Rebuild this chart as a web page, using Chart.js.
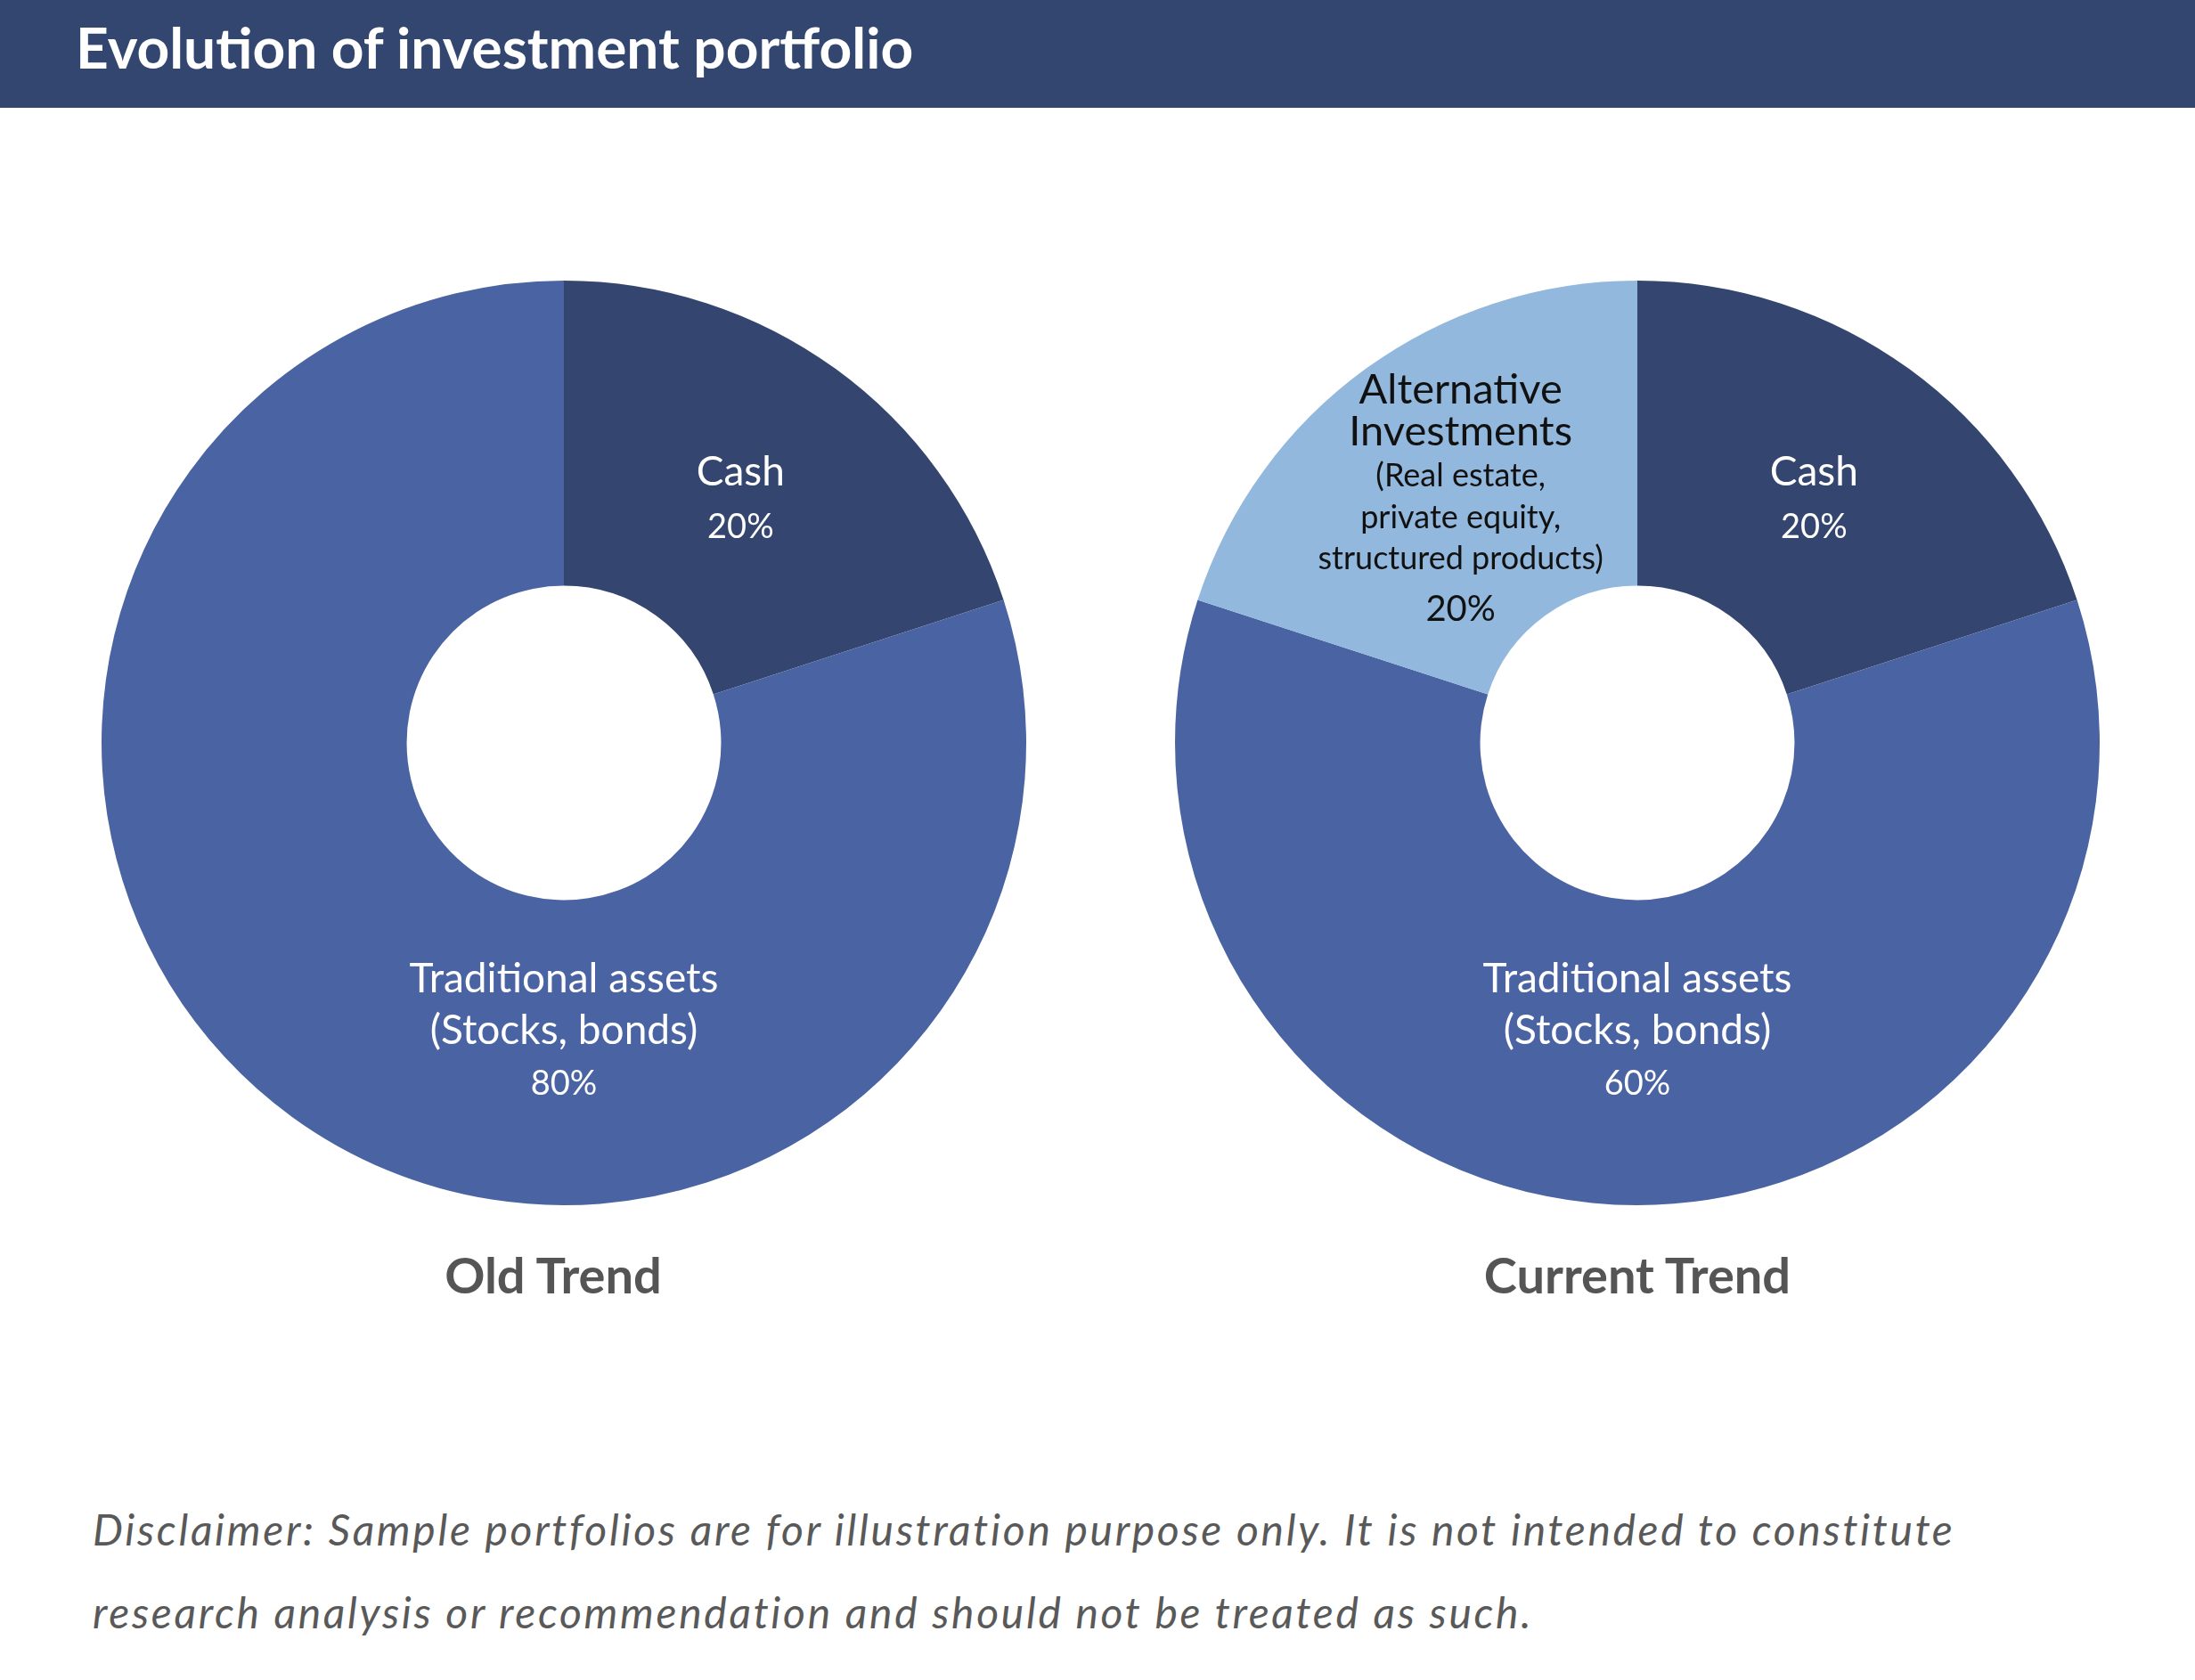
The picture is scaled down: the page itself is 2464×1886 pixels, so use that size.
<!DOCTYPE html>
<html>
<head>
<meta charset="utf-8">
<script src="https://cdn.jsdelivr.net/npm/chart.js@4"></script>
<style>
  body { margin: 0; width: 2464px; height: 1886px; background: #fff; position: relative; overflow: hidden; font-family: Lato, sans-serif; }
  .header { position: absolute; left: 0; top: 0; width: 2464px; height: 121px; background: #33466f; }
  .header h1 { margin: 0; position: absolute; left: 85px; top: 17px; font-size: 64px; line-height: 72px; font-weight: 700; color: #fff; }
  .box { position: absolute; width: 1060px; height: 1060px; top: 304px; }
  .cap { position: absolute; top: 1397px; width: 800px; text-align: center; font-size: 56px; font-weight: 700; color: #555; }
  .disc { position: absolute; left: 104px; top: 1670px; font-size: 48px; line-height: 93px; letter-spacing: 2.7px; font-style: italic; color: #595959; white-space: nowrap; }
</style>
</head>
<body>
<div class="header"><h1>Evolution of investment portfolio</h1></div>

<div class="box" style="left:103px"><canvas id="oldChart"></canvas></div>
<div class="box" style="left:1308px"><canvas id="curChart"></canvas></div>

<div class="cap" style="left:221px">Old Trend</div>
<div class="cap" style="left:1438px">Current Trend</div>

<div class="disc">Disclaimer: Sample portfolios are for illustration purpose only. It is not intended to constitute<br>research analysis or recommendation and should not be treated as such.</div>

<script>
  // old trend
  const oldCategories = ['Cash', 'Traditional assets (Stocks, bonds)'];
  const oldValues = [20, 80];
  const oldColors = ['#34466f', '#4a63a2'];

  // current trend
  const curCategories = ['Cash', 'Traditional assets (Stocks, bonds)', 'Alternative Investments'];
  const curValues = [20, 60, 20];
  const curColors = ['#34466f', '#4a63a2', '#93b8dd'];

  // slice label text, one list of lines per slice
  const oldLabelLines = [
    ['Cash'],
    ['Traditional assets', '(Stocks, bonds)']
  ];
  const curLabelLines = [
    ['Cash'],
    ['Traditional assets', '(Stocks, bonds)'],
    ['Alternative', 'Investments', '(Real estate,', 'private equity,', 'structured products)']
  ];

  // draws the text inside each slice
  const sliceLabels = {
    id: 'sliceLabels',
    afterDatasetsDraw(chart, args, opts) {
      const ctx = chart.ctx;
      const meta = chart.getDatasetMeta(0);
      const vals = chart.data.datasets[0].data;
      meta.data.forEach((arc, i) => {
        const p = arc.getProps(['x', 'y', 'startAngle', 'endAngle', 'innerRadius', 'outerRadius'], true);
        let ang = (p.startAngle + p.endAngle) / 2;
        if (opts.angles && opts.angles[i] != null) ang = opts.angles[i] * Math.PI / 180;
        const r = p.innerRadius + (p.outerRadius - p.innerRadius) * opts.radius[i];
        const cx = p.x + Math.cos(ang) * r;
        const cy = p.y + Math.sin(ang) * r;

        const st = opts.styles[i];
        const lines = opts.lines[i].concat([vals[i] + '%']);
        const sizes = st.sizes;
        const gaps = st.gaps;
        let total = 0;
        gaps.forEach(g => total += g);
        let y = cy - total / 2;
        ctx.save();
        ctx.textAlign = 'center';
        ctx.textBaseline = 'middle';
        ctx.fillStyle = st.color;
        lines.forEach((t, k) => {
          ctx.font = sizes[k] + 'px Lato';
          ctx.fillText(t, cx, y);
          if (k < gaps.length) y += gaps[k];
        });
        ctx.restore();
      });
    }
  };

  const whiteShort = { color: '#ffffff', sizes: [46, 38], gaps: [61] };
  const whiteLong = { color: '#ffffff', sizes: [46, 46, 38], gaps: [58, 60] };
  const altStyle = { color: '#111111', sizes: [47, 47, 36, 36, 36, 40], gaps: [47, 49, 47, 46, 57] };

  function makeChart(id, cats, vals, colors, lines, styles, angles, radius) {
    return new Chart(document.getElementById(id), {
      type: 'doughnut',
      data: {
        labels: cats,
        datasets: [{
          data: vals,
          backgroundColor: colors,
          borderWidth: 0,
          hoverOffset: 0
        }]
      },
      options: {
        responsive: false,
        animation: false,
        cutout: '34%',
        layout: { padding: 11 },
        plugins: {
          legend: { display: false },
          tooltip: { enabled: false },
          sliceLabels: { lines: lines, styles: styles, angles: angles, radius: radius }
        }
      },
      plugins: [sliceLabels]
    });
  }

  document.getElementById('oldChart').width = 1060;
  document.getElementById('oldChart').height = 1060;
  document.getElementById('curChart').width = 1060;
  document.getElementById('curChart').height = 1060;

  const oldChart = makeChart('oldChart', oldCategories, oldValues, oldColors, oldLabelLines,
    [whiteShort, whiteLong], [null, 90], [0.47, 0.43]);
  const curChart = makeChart('curChart', curCategories, curValues, curColors, curLabelLines,
    [whiteShort, whiteLong, altStyle], [null, null, null], [0.47, 0.43, 0.47]);
</script>
</body>
</html>
